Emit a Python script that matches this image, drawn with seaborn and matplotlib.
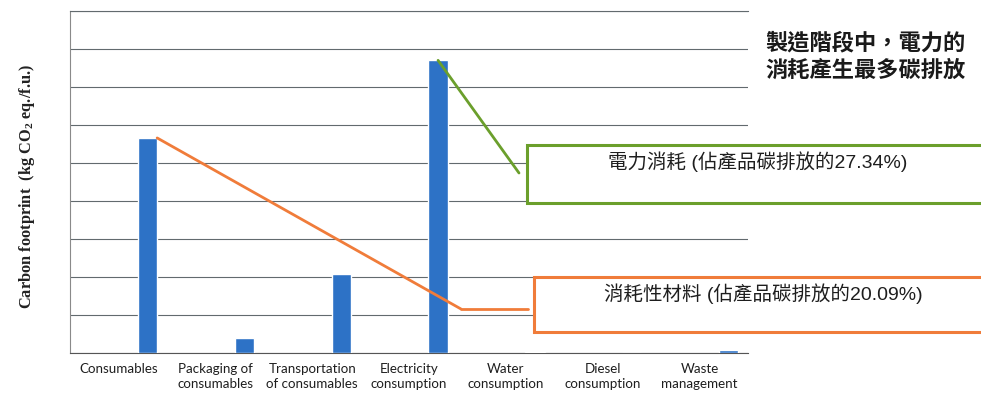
import numpy as np
import pandas as pd
import matplotlib
matplotlib.use("Agg")
import matplotlib.pyplot as plt
from matplotlib.patches import Rectangle
from matplotlib.lines import Line2D
import seaborn as sns

# Manufacturing-stage contributions (share of the product's carbon footprint, %)
categories = [
    "Consumables",
    "Packaging of\nconsumables",
    "Transportation\nof consumables",
    "Electricity\nconsumption",
    "Water\nconsumption",
    "Diesel\nconsumption",
    "Waste\nmanagement",
]
footprint_share = [20.09, 1.40, 7.37, 27.34, 0.10, 0.0, 0.25]

headline = "製造階段中，電力的\n消耗產生最多碳排放"
callout_electricity = "電力消耗 (佔產品碳排放的27.34%)"
callout_consumables = "消耗性材料 (佔產品碳排放的20.09%)"
y_title = r"Carbon footprint  (kg CO$_\mathbf{2}$ eq./f.u.)"

BAR_BLUE = "#2d72c6"
GREEN = "#6b9f2c"
ORANGE = "#f07c3a"
GRID = "#626a6e"
GRID_STEP = 3.55
N_GRID = 9
CJK = ["Noto Sans CJK TC", "DejaVu Sans"]
CALLOUT_FONT = ["Liberation Sans", "Noto Sans CJK TC"]

sns.set_theme(style="white")
plt.rcParams["font.family"] = ["Lato", "DejaVu Sans"]
plt.rcParams["mathtext.fontset"] = "custom"
plt.rcParams["mathtext.rm"] = "Liberation Serif:bold"
plt.rcParams["mathtext.bf"] = "Liberation Serif:bold"

W, H = 981, 395
fig = plt.figure(figsize=(W / 100, H / 100), dpi=100)
ax = fig.add_axes([70 / W, 1 - 353 / H, 678 / W, 342 / H])

df = pd.DataFrame({
    "pos": np.arange(len(categories)) + 0.3,
    "share": footprint_share,
})
sns.barplot(data=df, x="pos", y="share", native_scale=True, width=0.2,
            color=BAR_BLUE, saturation=1, errorbar=None, ax=ax, zorder=3)

ax.set_xlim(-0.5, len(categories) - 0.5)
ax.set_xticks(np.arange(len(categories)))
ax.set_xticklabels(categories, fontsize=9.6, color="#1e1e1e", linespacing=1.3)
ax.set_xlabel("")
ax.tick_params(axis="x", length=0, pad=7)

ax.set_ylim(0, N_GRID * GRID_STEP)
ax.set_yticks(np.arange(N_GRID + 1) * GRID_STEP)
ax.tick_params(axis="y", left=False, labelleft=False)
ax.grid(axis="y", color=GRID, lw=0.8)
ax.grid(axis="x", visible=False)
ax.set_axisbelow(True)

ax.set_ylabel(y_title, family="Liberation Serif", fontweight="bold",
              fontsize=11.8, color="#222222", va="center")
ax.yaxis.set_label_coords(-0.0634, 0.487)

for side, spine in ax.spines.items():
    spine.set_linewidth(0.8)
ax.spines["right"].set_visible(False)
ax.spines["top"].set_color(GRID)
ax.spines["bottom"].set_color("#555555")
ax.spines["left"].set_color("#8a8a8a")

# Callout: electricity
elec = categories.index("Electricity\nconsumption")
ax.annotate("", xy=(elec + 0.3, footprint_share[elec]), xycoords="data",
            xytext=(519 / W, 1 - 173 / H), textcoords="figure fraction",
            arrowprops=dict(arrowstyle="-", color=GREEN, lw=2, shrinkA=0, shrinkB=0),
            zorder=4)
fig.add_artist(Rectangle((527 / W, 1 - 203 / H), 0.6, 58 / H, transform=fig.transFigure,
                         facecolor="white", edgecolor=GREEN, lw=2.2, clip_on=False, zorder=5))
fig.text(758 / W, 1 - 162 / H, callout_electricity, family=CALLOUT_FONT, fontsize=14,
         ha="center", va="center", color="#1e1e1e", zorder=6)

# Callout: consumables
cons = categories.index("Consumables")
elbow = (461 / W, 1 - 309 / H)
ax.annotate("", xy=(cons + 0.4, footprint_share[cons]), xycoords="data",
            xytext=elbow, textcoords="figure fraction",
            arrowprops=dict(arrowstyle="-", color=ORANGE, lw=2, shrinkA=0, shrinkB=0),
            zorder=4)
fig.add_artist(Line2D([elbow[0], 528 / W], [elbow[1], elbow[1]], transform=fig.transFigure,
                      color=ORANGE, lw=2, zorder=4))
fig.add_artist(Rectangle((534 / W, 1 - 332 / H), 0.6, 55 / H, transform=fig.transFigure,
                         facecolor="white", edgecolor=ORANGE, lw=2.2, clip_on=False, zorder=5))
fig.text(763 / W, 1 - 294 / H, callout_consumables, family=CALLOUT_FONT, fontsize=14,
         ha="center", va="center", color="#1e1e1e", zorder=6)

# Headline
fig.text(765 / W, 1 - 57 / H, headline, family=CJK, fontsize=16, fontweight="bold",
         ha="left", va="center", linespacing=1.25, color="#1a1a1a")

fig.savefig("out.png", dpi=100)
